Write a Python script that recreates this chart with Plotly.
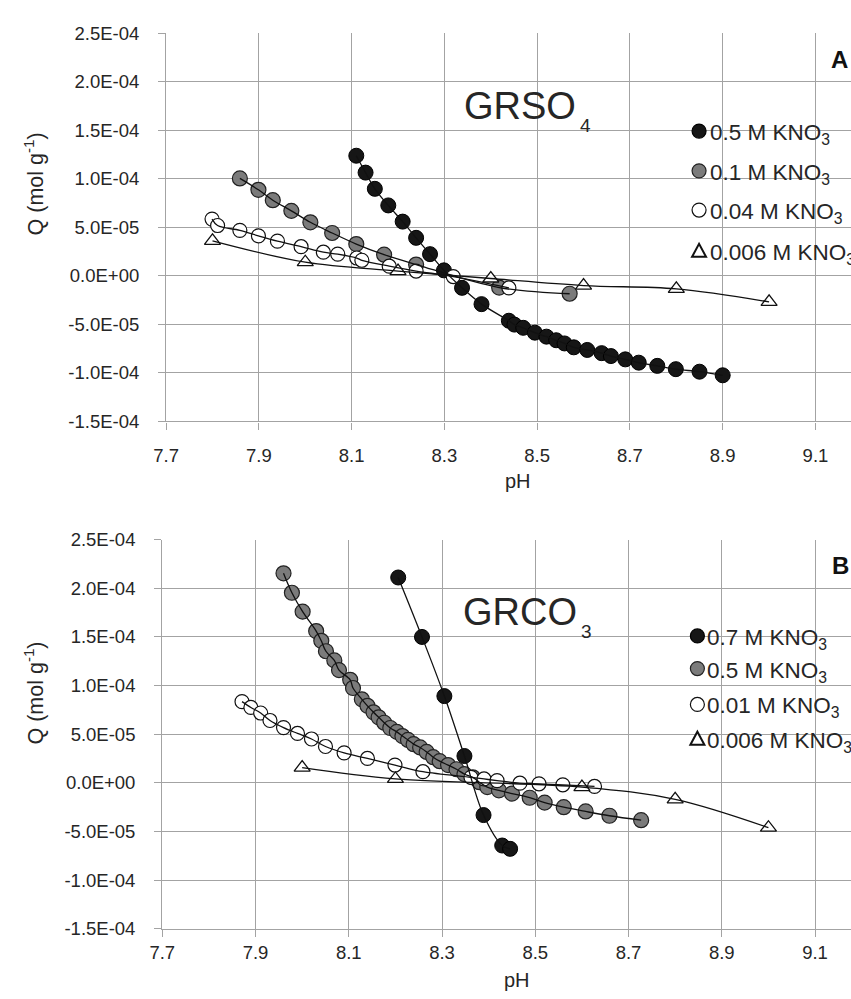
import plotly.graph_objects as go

W, H = 851, 999
FONT = "Liberation Sans, Arial, Helvetica, sans-serif"
GRID = "#a3a3a3"
TEXT = "#262626"

# ---- axis ticks -------------------------------------------------------
ph_ticks = [7.7, 7.9, 8.1, 8.3, 8.5, 8.7, 8.9, 9.1]
q_ticks = [-1.5e-4, -1.0e-4, -5.0e-5, 0.0, 5.0e-5, 1.0e-4, 1.5e-4, 2.0e-4, 2.5e-4]
ph_tick_text = [f"{v:.1f}" for v in ph_ticks]
q_tick_text = [f"{v:.1E}" for v in q_ticks]

# ---- panel A: GRSO4 ---------------------------------------------------
a_labels = ["0.5 M KNO<sub>3</sub>", "0.1 M KNO<sub>3</sub>",
            "0.04 M KNO<sub>3</sub>", "0.006 M KNO<sub>3</sub>"]

a_ph_05 = [8.110, 8.130, 8.150, 8.179, 8.210, 8.239, 8.269, 8.299, 8.338, 8.380,
           8.439, 8.451, 8.470, 8.495, 8.520, 8.541, 8.559, 8.579, 8.608, 8.639,
           8.659, 8.690, 8.719, 8.759, 8.799, 8.850, 8.900]
a_q_05 = [1.238e-4, 1.064e-4, 8.97e-5, 7.26e-5, 5.59e-5, 3.92e-5, 2.24e-5, 5.7e-6,
          -1.23e-5, -2.91e-5, -4.62e-5, -5.02e-5, -5.35e-5, -5.85e-5, -6.26e-5,
          -6.63e-5, -6.96e-5, -7.36e-5, -7.63e-5, -7.96e-5, -8.26e-5, -8.60e-5,
          -8.94e-5, -9.27e-5, -9.61e-5, -9.87e-5, -1.024e-4]

a_ph_01 = [7.859, 7.899, 7.930, 7.970, 8.011, 8.058, 8.110, 8.170, 8.239, 8.418, 8.570]
a_q_01 = [1.004e-4, 8.87e-5, 7.80e-5, 6.70e-5, 5.52e-5, 4.42e-5, 3.28e-5, 2.18e-5,
          1.17e-5, -1.20e-5, -1.84e-5]

a_ph_004 = [7.799, 7.811, 7.859, 7.899, 7.940, 7.991, 8.039, 8.070, 8.111, 8.122,
            8.181, 8.239, 8.319, 8.439]
a_q_004 = [5.85e-5, 5.19e-5, 4.69e-5, 4.12e-5, 3.58e-5, 3.01e-5, 2.44e-5, 2.24e-5,
           1.84e-5, 1.61e-5, 1.00e-5, 5.0e-6, -7e-7, -1.24e-5]

a_ph_0006 = [7.8, 8.0, 8.2, 8.4, 8.6, 8.8, 9.0]
a_q_0006 = [3.61e-5, 1.41e-5, 5.0e-6, -2.7e-6, -1.00e-5, -1.34e-5, -2.68e-5]

# ---- panel B: GRCO3 ---------------------------------------------------
b_labels = ["0.7 M KNO<sub>3</sub>", "0.5 M KNO<sub>3</sub>",
            "0.01 M KNO<sub>3</sub>", "0.006 M KNO<sub>3</sub>"]

b_ph_07 = [8.206, 8.257, 8.305, 8.348, 8.389, 8.429, 8.446]
b_q_07 = [2.111e-4, 1.50e-4, 8.92e-5, 2.76e-5, -3.31e-5, -6.44e-5, -6.78e-5]

b_ph_05 = [7.960, 7.978, 8.001, 8.030, 8.041, 8.051, 8.069, 8.079, 8.103, 8.109,
           8.128, 8.140, 8.153, 8.164, 8.176, 8.189, 8.203, 8.215, 8.227, 8.239,
           8.253, 8.267, 8.281, 8.295, 8.313, 8.331, 8.348, 8.366, 8.380, 8.397,
           8.422, 8.450, 8.488, 8.520, 8.561, 8.608, 8.659, 8.727]
b_q_05 = [2.154e-4, 1.954e-4, 1.76e-4, 1.56e-4, 1.46e-4, 1.353e-4, 1.259e-4, 1.159e-4,
          1.059e-4, 9.75e-5, 8.59e-5, 7.92e-5, 7.25e-5, 6.74e-5, 6.18e-5, 5.64e-5,
          5.24e-5, 4.81e-5, 4.41e-5, 3.98e-5, 3.64e-5, 3.18e-5, 2.64e-5, 2.23e-5,
          1.83e-5, 1.40e-5, 9.0e-6, 5.7e-6, 7e-7, -4.3e-6, -7.7e-6, -1.10e-5,
          -1.53e-5, -2.03e-5, -2.50e-5, -2.94e-5, -3.38e-5, -3.84e-5]

b_ph_001 = [7.871, 7.890, 7.911, 7.931, 7.960, 7.990, 8.020, 8.050, 8.090, 8.140,
            8.199, 8.259, 8.362, 8.390, 8.418, 8.467, 8.508, 8.559, 8.627]
b_q_001 = [8.35e-5, 7.75e-5, 7.18e-5, 6.41e-5, 5.68e-5, 5.08e-5, 4.51e-5, 3.74e-5,
           3.08e-5, 2.51e-5, 1.83e-5, 1.15e-5, 5.7e-6, 4.0e-6, 2.3e-6, -3e-7,
           -1.0e-6, -2.0e-6, -3.7e-6]

b_ph_0006 = [8.0, 8.2, 8.6, 8.8, 9.0]
b_q_0006 = [1.57e-5, 4.0e-6, -4.3e-6, -1.70e-5, -4.61e-5]

# ---- marker styles (filled black, grey, open circle, open triangle) ----
STYLES = [
    dict(symbol="circle", size=15, color="#161616", line=dict(color="#000000", width=1)),
    dict(symbol="circle", size=15, color="#7b7b7b", line=dict(color="#222222", width=1.2)),
    dict(symbol="circle", size=14, color="#ffffff", line=dict(color="#111111", width=1.2)),
    dict(symbol="triangle-up", size=14, color="#ffffff", line=dict(color="#111111", width=1.3)),
]

panels = [
    ("x", "y", a_labels, [(a_ph_05, a_q_05), (a_ph_01, a_q_01),
                          (a_ph_004, a_q_004), (a_ph_0006, a_q_0006)]),
    ("x2", "y2", b_labels, [(b_ph_07, b_q_07), (b_ph_05, b_q_05),
                            (b_ph_001, b_q_001), (b_ph_0006, b_q_0006)]),
]

fig = go.Figure()

# markers first, smoothed curves drawn over them
for xa, ya, labels, series in panels:
    for (ph, q), style, name in zip(series, STYLES, labels):
        fig.add_trace(go.Scatter(x=ph, y=q, mode="markers", name=name,
                                 xaxis=xa, yaxis=ya, marker=style,
                                 showlegend=False, hoverinfo="x+y"))
for xa, ya, labels, series in panels:
    for (ph, q), name in zip(series, labels):
        fig.add_trace(go.Scatter(x=ph, y=q, mode="lines", name=name,
                                 xaxis=xa, yaxis=ya,
                                 line=dict(color="#111111", width=1.3,
                                           shape="spline", smoothing=1.0),
                                 showlegend=False, hoverinfo="skip"))


def px_x(p):
    return p / W


def px_y(p):
    return 1 - p / H


tickfont = dict(family=FONT, size=18.5, color=TEXT)
common_x = dict(tickvals=ph_ticks, ticktext=ph_tick_text, showgrid=True,
                gridcolor=GRID, gridwidth=1.3, showline=True, linecolor=GRID,
                linewidth=1.3, ticks="outside", ticklen=7, tickcolor=GRID,
                tickwidth=1.3, zeroline=False, tickfont=tickfont)
common_y = dict(tickvals=q_ticks, ticktext=q_tick_text, range=[-1.5e-4, 2.5e-4],
                showgrid=True, gridcolor=GRID, gridwidth=1.3, showline=True,
                linecolor=GRID, linewidth=1.3, ticks="outside", ticklen=7,
                tickcolor=GRID, tickwidth=1.3, zeroline=False, tickfont=tickfont,
                ticklabelstandoff=15)

# plot-area edges in pixels
A_LEFT, A_TOP, A_BOTTOM, A_PX_PER_PH = 155.5, 22.7, 419.3, 471.0
B_LEFT, B_TOP, B_BOTTOM, B_PX_PER_PH = 151.6, 540.0, 937.5, 473.5

fig.update_layout(
    width=W, height=H, margin=dict(l=0, r=0, t=0, b=0),
    paper_bgcolor="white", plot_bgcolor="white", showlegend=False,
    font=dict(family=FONT, color=TEXT),
    xaxis=dict(domain=[px_x(A_LEFT), 1], anchor="y",
               range=[7.7, 7.7 + (W - A_LEFT) / A_PX_PER_PH],
               ticklabelstandoff=10, **common_x),
    yaxis=dict(domain=[px_y(A_BOTTOM), px_y(A_TOP)], anchor="x", **common_y),
    xaxis2=dict(domain=[px_x(B_LEFT), 1], anchor="y2",
                range=[7.7, 7.7 + (W - B_LEFT) / B_PX_PER_PH],
                ticklabelstandoff=0, **common_x),
    yaxis2=dict(domain=[px_y(B_BOTTOM), px_y(B_TOP)], anchor="x2", **common_y),
)

ann = []
shapes = []


def text(x, y, s, size, xanchor="center", yanchor="middle", bold=False, angle=0):
    ann.append(dict(x=px_x(x), y=px_y(y), xref="paper", yref="paper", text=s,
                    showarrow=False, xanchor=xanchor, yanchor=yanchor,
                    textangle=angle,
                    font=dict(family=FONT, size=size, color="#111111" if bold else TEXT,
                              weight="bold" if bold else "normal")))


# axis titles
for yc, xc_ph, yc_ph in [(177, 513, 480), (697, 512, 990)]:
    text(21.5, yc, "Q (mol g<sup>-1</sup>)", 21.5, angle=-90)
    text(xc_ph, yc_ph, "pH", 20)

# panel letters
text(839, 50, "A", 24, bold=True)
text(840, 566, "B", 24, bold=True)

# compound names
text(456, 97, "GRSO", 38, xanchor="left")
text(574, 117, "4", 19, xanchor="left")
text(455, 614, "GRCO", 38, xanchor="left")
text(575, 634, "3", 19, xanchor="left")


# legend keys
def key(cx, cy, idx):
    st = STYLES[idx]
    if st["symbol"] == "circle":
        r = 7
        shapes.append(dict(type="circle", xref="paper", yref="paper",
                           xsizemode="pixel", ysizemode="pixel",
                           xanchor=px_x(cx), yanchor=px_y(cy),
                           x0=-r, x1=r, y0=-r, y1=r,
                           fillcolor=st["color"],
                           line=dict(color=st["line"]["color"], width=1.2)))
    else:
        shapes.append(dict(type="path", xref="paper", yref="paper",
                           xsizemode="pixel", ysizemode="pixel",
                           xanchor=px_x(cx), yanchor=px_y(cy),
                           path="M -7,-6 L 7,-6 L 0,7 Z",
                           fillcolor="white",
                           line=dict(color="#111111", width=2)))


for labels, mx, tx, ys in [(a_labels, 696.7, 706, [122.7, 163.3, 203.3, 245.0]),
                           (b_labels, 695.0, 703, [638.3, 671.7, 708.3, 743.3])]:
    for i, (lab, yy) in enumerate(zip(labels, ys)):
        key(mx, yy, i)
        text(tx, yy + 3, lab, 22.5, xanchor="left")

fig.update_layout(annotations=ann, shapes=shapes)
fig.write_html("out.html")
